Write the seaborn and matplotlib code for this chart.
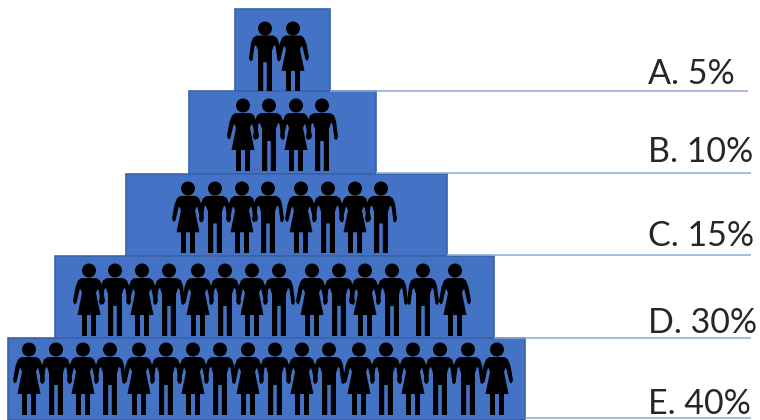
import matplotlib
matplotlib.use("Agg")
import matplotlib.pyplot as plt
from matplotlib.patches import Polygon, Ellipse
import pandas as pd
import seaborn as sns

tiers = ["A", "B", "C", "D", "E"]
labels = ["A. 5%", "B. 10%", "C. 15%", "D. 30%", "E. 40%"]
tier_left = [235, 189, 126, 55, 8]
tier_right = [330, 376, 447, 494, 525]
people_x = [
    [265, 293],
    [243, 269, 296, 322],
    [188, 215, 242, 268, 301, 328, 355, 381],
    [89, 115, 142, 169, 198, 225, 252, 279, 312, 339, 365, 392, 423, 455],
    [29, 56, 83, 110, 139, 166, 193, 220, 248, 275, 302, 329, 359, 386, 413, 440, 468, 497],
]
people_kind = ["mf", "fmfm", "fmfmfmfm", "fmfmfmfmfmfmmf", "fmfmfmfmfmfmfmfmmf"]
people_top = [22, 99, 182, 264, 343]
people_height = [69, 72, 71, 72, 72]
label_base = [84, 162, 246, 333, 414]
rule_y = [91, 173, 255, 338, 418]
rule_start = [330, 376, 447, 494, 525]
rule_end = [748, 751, 751, 751, 751]

BLUE = "#4472C4"
EDGE = "#3A62AB"
RULE = "#8FAADC"
ROW = 82.25
TOP = 9

sns.set_style("white")
plt.rcParams["font.family"] = ["Lato", "DejaVu Sans"]

fig = plt.figure(figsize=(7.6, 4.2), dpi=100)
ax = fig.add_axes([0, 0, 1, 1])

df = pd.DataFrame({"tier": tiers, "span": [r - l for l, r in zip(tier_left, tier_right)]})
sns.barplot(data=df, y="tier", x="span", left=tier_left, width=1.0, orient="h",
            color=BLUE, saturation=1, edgecolor=EDGE, linewidth=1.2, ax=ax)

ax.set_xlim(0, 760)
ax.set_ylim((420 - TOP) / ROW - 0.5, -TOP / ROW - 0.5)
ax.set_axis_off()


def yd(py):
    return (py - TOP) / ROW - 0.5


man_half = [(0, 14), (8.5, 14.2), (12, 16.5), (14, 22), (16, 38), (14.5, 41), (12.5, 40),
            (10.5, 25), (9, 24), (7, 30), (7, 72), (1.8, 72), (1.8, 42), (0, 42)]
woman_half = [(0, 14), (8, 14.2), (11, 16.5), (13.5, 23), (16, 37), (14.5, 40.5), (12.5, 39),
              (9.5, 26), (8.5, 25), (7, 29), (11.5, 51), (7, 51), (7, 72), (2, 72), (2, 51), (0, 51)]


def person(cx, top, kind, height):
    half = man_half if kind == "m" else woman_half
    s = height / 72
    pts = [(cx + x, yd(top + y * s)) for x, y in half]
    pts += [(cx - x, yd(top + y * s)) for x, y in reversed(half)]
    ax.add_patch(Polygon(pts, closed=True, fc="black", ec="none", zorder=4))
    ax.add_patch(Ellipse((cx, yd(top + 6.5)), 14, 14 / ROW, fc="black", ec="none", zorder=4))


for xs, kinds, top, h in zip(people_x, people_kind, people_top, people_height):
    for cx, k in zip(xs, kinds):
        person(cx, top, k, h)

for y, a, b in zip(rule_y, rule_start, rule_end):
    ax.plot([a, b], [yd(y), yd(y)], color=RULE, lw=1.1, zorder=2, solid_capstyle="butt")

for lab, base in zip(labels, label_base):
    ax.text(648, yd(base), lab, fontsize=24.5, color="#262626", ha="left", va="baseline", zorder=5)

fig.savefig("out.png", dpi=100, facecolor="white")
